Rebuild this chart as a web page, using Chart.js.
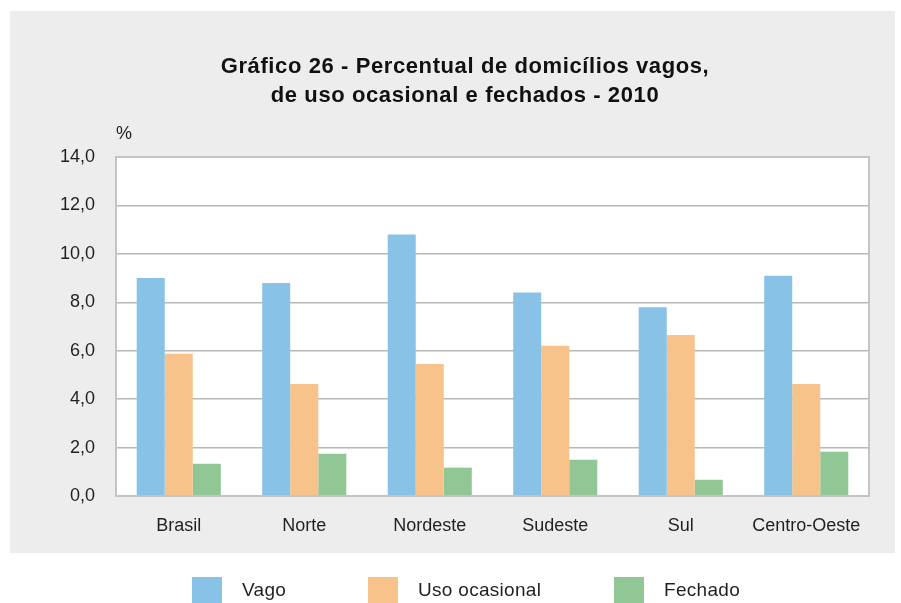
<!DOCTYPE html>
<html>
<head>
<meta charset="utf-8">
<script src="https://cdn.jsdelivr.net/npm/chart.js@4.4.1/dist/chart.umd.min.js"></script>
<style>
  html, body { margin: 0; padding: 0; background: #fff; }
  #wrap { width: 901px; height: 603px; position: relative; }
</style>
</head>
<body>
<div id="wrap"><canvas id="chart" width="901" height="603"></canvas></div>
<script>
const titleLines = ["Gráfico 26 - Percentual de domicílios vagos,", "de uso ocasional e fechados - 2010"]
const unitLabel = "%"
const regions = ["Brasil", "Norte", "Nordeste", "Sudeste", "Sul", "Centro-Oeste"]
const vago = [9.0, 8.8, 10.8, 8.4, 7.8, 9.1]
const usoOcasional = [5.87, 4.63, 5.45, 6.2, 6.65, 4.63]
const fechado = [1.33, 1.74, 1.17, 1.5, 0.67, 1.83]
const seriesNames = ["Vago", "Uso ocasional", "Fechado"]
const colors = ["#88c2e6", "#f8c38a", "#90c795"]

const textColor = "#231f20"
const font = "'Liberation Sans', Arial, sans-serif"

// gray panel, plot frame, title, unit and legend
const decor = {
  id: "decor",
  beforeDraw(chart) {
    const { ctx } = chart
    ctx.save()
    ctx.fillStyle = "#ecedec"
    ctx.fillRect(10, 11, 885, 542)
    const a = chart.chartArea
    ctx.fillStyle = "#ffffff"
    ctx.fillRect(a.left, a.top, a.right - a.left, a.bottom - a.top)
    ctx.restore()
  },
  afterDraw(chart) {
    const { ctx } = chart
    const a = chart.chartArea
    ctx.save()
    ctx.strokeStyle = "#c4c4c4"
    ctx.lineWidth = 2
    ctx.strokeRect(a.left, a.top, a.right - a.left, a.bottom - a.top)

    ctx.fillStyle = "#111"
    ctx.textAlign = "center"
    ctx.textBaseline = "middle"
    ctx.font = "bold 22px " + font
    ctx.letterSpacing = "0.6px"
    ctx.fillText(titleLines[0], 465, 67)
    ctx.fillText(titleLines[1], 465, 96)

    ctx.fillStyle = textColor
    ctx.letterSpacing = "0px"
    ctx.font = "18px " + font
    ctx.textAlign = "left"
    ctx.fillText(unitLabel, 116, 134)

    const legendX = [192, 368, 614]
    ctx.font = "19px " + font
    ctx.letterSpacing = "0.3px"
    seriesNames.forEach((name, i) => {
      ctx.fillStyle = colors[i]
      ctx.fillRect(legendX[i], 577, 30, 26)
      ctx.fillStyle = textColor
      ctx.fillText(name, legendX[i] + 50, 591)
    })
    ctx.restore()
  },
}

new Chart(document.getElementById("chart"), {
  type: "bar",
  data: {
    labels: regions,
    datasets: [
      { label: seriesNames[0], data: vago, backgroundColor: colors[0] },
      { label: seriesNames[1], data: usoOcasional, backgroundColor: colors[1] },
      { label: seriesNames[2], data: fechado, backgroundColor: colors[2] },
    ].map((d) => ({ ...d, borderWidth: 0, barPercentage: 1, categoryPercentage: 0.67 })),
  },
  options: {
    responsive: false,
    animation: false,
    layout: { padding: { top: 157, right: 32, bottom: 57, left: 0 } },
    plugins: {
      legend: { display: false },
      tooltip: { enabled: false },
    },
    scales: {
      x: {
        grid: { display: false },
        border: { display: false },
        ticks: { color: textColor, font: { family: font, size: 18 }, padding: 11 },
        afterFit(scale) { scale.height = 50 },
      },
      y: {
        min: 0,
        max: 14,
        ticks: {
          stepSize: 2,
          color: textColor,
          font: { family: font, size: 18 },
          padding: 21,
          callback: (v) => v.toFixed(1).replace(".", ","),
        },
        grid: { color: "#b8b8b8", lineWidth: 1.5, drawTicks: false },
        border: { display: false },
        afterFit(scale) { scale.width = 116 },
      },
    },
  },
  plugins: [decor],
})
</script>
</body>
</html>
